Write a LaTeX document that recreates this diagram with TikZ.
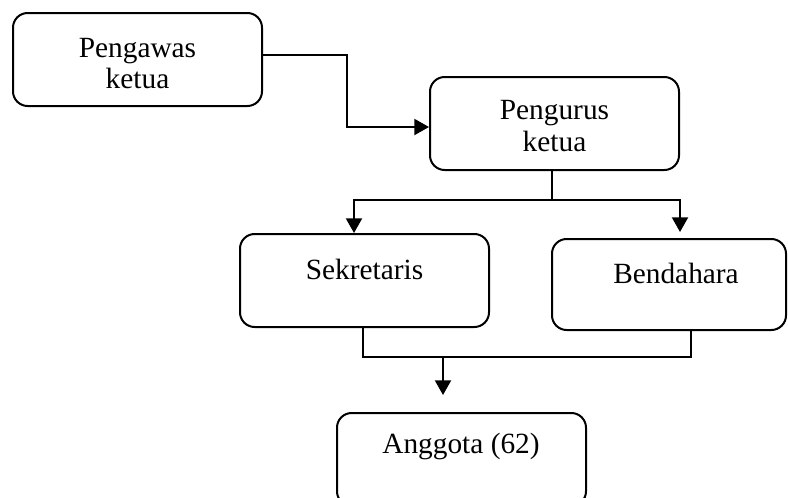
\documentclass[tikz,border=0pt]{standalone}
\usepackage{fontspec}
\setmainfont{Liberation Serif}
\usetikzlibrary{arrows.meta}
\begin{document}
\begin{tikzpicture}[x=0.75pt,y=-0.75pt,
  box/.style={draw, line width=1.5pt, rounded corners=11pt, inner sep=0pt,
    minimum width=186.75pt, minimum height=69.75pt},
  lbl/.style={font=\fontsize{22}{24.5}\selectfont, align=center, inner sep=0pt, anchor=base},
  conn/.style={line width=1.5pt},
  arr/.style={conn, -{Triangle[width=12pt,length=11pt]}}]
\clip (0,0) rectangle (788,497);
% boxes
\node[box] (pengawas) at (137.5,59.5) {};
\node[box] (pengurus) at (554.5,123.5) {};
\node[box] (sekretaris) at (364.5,280.5) {};
\node[box, minimum width=175.5pt, minimum height=68.25pt] (bendahara) at (669,284.5) {};
\node[box] (anggota) at (461.5,459.5) {};
% texts
\node[lbl] (t1) at (137.5,57) {Pengawas};
\node[lbl] (t1b) at (137.5,88) {ketua};
\node[lbl] (t2) at (554.5,119) {Pengurus};
\node[lbl] (t2b) at (554.5,151) {ketua};
\node[lbl] (t3) at (364.5,279) {Sekretaris};
\node[lbl] (t4) at (676,283) {Bendahara};
\node[lbl] (t5) at (461,453) {Anggota (62)};
% connector points
\coordinate (c1) at (347,55);
\coordinate (c2) at (347,127);
\coordinate (j1) at (552,200);
\coordinate (sl) at (354,200);
\coordinate (br) at (680,200);
\coordinate (m1) at (363,357);
\coordinate (m2) at (691,357);
\coordinate (m3) at (443,357);
% connectors
\draw[arr] (pengawas.east |- c1) -- (c1) -- (c2) -- (pengurus.west |- c2);
\draw[conn] (pengurus.south -| j1) -- (j1);
\draw[arr] (j1) -- (sl) -- (sekretaris.north -| sl);
\draw[arr, shorten >=4.5pt] (j1) -- (br) -- (bendahara.north -| br);
\draw[conn] (sekretaris.south -| m1) -- (m1) -- (m2) -- (bendahara.south -| m2);
\draw[arr, shorten >=12.75pt] (m3) -- (anggota.north -| m3);
\end{tikzpicture}
\end{document}
